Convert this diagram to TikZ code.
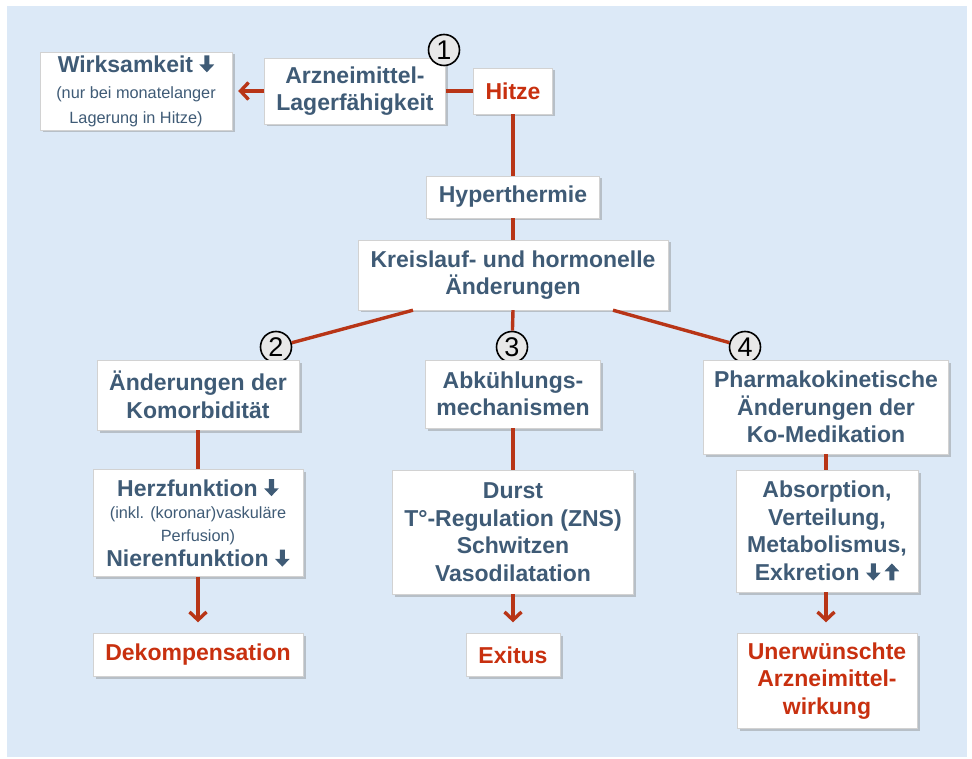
\documentclass[tikz,border=0pt]{standalone}
\usepackage{fontspec}
\setmainfont{Liberation Sans}
\usetikzlibrary{arrows.meta,shadows}

\definecolor{hintergrund}{HTML}{DCE9F7}
\definecolor{textblau}{HTML}{3F5B76}
\definecolor{rottext}{HTML}{C8300F}
\definecolor{linienrot}{HTML}{B83517}

\newcommand{\klein}{\normalfont\fontsize{16.3}{20}\selectfont}
\newcommand{\runter}{\tikz[baseline=0pt]\fill[textblau] (-0.11em,0.74em) -- (0.11em,0.74em) -- (0.11em,0.34em) -- (0.32em,0.34em) -- (0,0) -- (-0.32em,0.34em) -- (-0.11em,0.34em) -- cycle;}
\newcommand{\rauf}{\tikz[baseline=0pt]\fill[textblau] (-0.11em,0) -- (0.11em,0) -- (0.11em,0.4em) -- (0.32em,0.4em) -- (0,0.74em) -- (-0.32em,0.4em) -- (-0.11em,0.4em) -- cycle;}

\tikzset{
	kasten/.style={draw=gray!35, fill=white, align=center, inner sep=3pt,
		drop shadow={shadow xshift=2.5pt, shadow yshift=-2.5pt, opacity=0.4, fill=gray},
		text=textblau, font=\bfseries\fontsize{23}{27.5}\selectfont},
	rotkasten/.style={kasten, text=rottext},
	nummer/.style={circle, draw=black, line width=1.6pt, fill=gray!18, minimum size=31pt,
		inner sep=0pt, font=\fontsize{27}{27}\selectfont},
	linie/.style={draw=linienrot, line width=3.4pt},
	pfeil/.style={linie, -{Straight Barb[length=8pt,width=17pt]}},
}

\begin{document}
\begin{tikzpicture}[x=1pt, y=-1pt]
\useasboundingbox (0,0) rectangle (972,759);
\fill[white] (0,0) rectangle (972,759);
\fill[hintergrund] (7,6) rectangle (967,757);

% oben
\node[kasten, minimum width=192, minimum height=78] (wirk) at (136,91)
	{Wirksamkeit \runter\\[-1pt]{\klein (nur bei monatelanger}\\[-3pt]{\klein Lagerung in Hitze)}};
\node[kasten, minimum width=181, minimum height=66] (lager) at (355,91)
	{Arzneimittel-\\Lagerf\"ahigkeit};
\node[rotkasten, minimum width=79, minimum height=46] (hitze) at (513,91) {Hitze};
\node[nummer] (n1) at (444,50) {1};

\node[kasten, minimum width=173, minimum height=42] (hyper) at (513,197) {Hyperthermie};
\node[kasten, minimum width=310, minimum height=70] (kreis) at (513,275)
	{Kreislauf- und hormonelle\\\"Anderungen};

\node[nummer] (n2) at (276,347) {2};
\node[nummer] (n3) at (512,347) {3};
\node[nummer] (n4) at (745,347) {4};

% drei Zweige
\node[kasten, minimum width=202, minimum height=70] (komorb) at (198,395)
	{\"Anderungen der\\Komorbidit\"at};
\node[kasten, minimum width=175, minimum height=68] (abk) at (513,394)
	{Abk\"uhlungs-\\mechanismen};
\node[kasten, minimum width=245, minimum height=94] (pharma) at (826,407)
	{Pharmakokinetische\\\"Anderungen der\\Ko-Medikation};

\node[kasten, minimum width=210, minimum height=107] (herz) at (198,523)
	{Herzfunktion \runter\\[-5pt]{\klein (inkl. (koronar)vaskul\"are}\\[-5pt]{\klein Perfusion)}\\[-2pt]Nierenfunktion \runter};
\node[kasten, minimum width=241, minimum height=124] (durst) at (513,532)
	{Durst\\T\textdegree-Regulation (ZNS)\\Schwitzen\\Vasodilatation};
\node[kasten, minimum width=182, minimum height=122] (absorp) at (827,531)
	{Absorption,\\Verteilung,\\Metabolismus,\\Exkretion \runter\,\rauf};

\node[rotkasten, minimum width=210, minimum height=43] (dekomp) at (198,655) {Dekompensation};
\node[rotkasten, minimum width=94, minimum height=43] (exitus) at (513,655) {Exitus};
\node[rotkasten, minimum width=180, minimum height=95] (unerw) at (827,681)
	{Unerw\"unschte\\Arzneimittel-\\wirkung};

% Verbindungen
\draw[linie] (hitze.west) -- (lager.east);
\draw[pfeil, shorten >=6pt] (lager.west) -- (wirk.east);
\draw[linie] (hitze.south) -- (hyper.north);
\draw[linie] (hyper.south) -- (kreis.north);
\draw[linie] ([xshift=-100pt]kreis.south) -- (n2);
\draw[linie] (kreis.south) -- (n3);
\draw[linie] ([xshift=100pt]kreis.south) -- (n4);
\draw[linie] (komorb.south) -- (herz.north);
\draw[linie] (abk.south) -- (durst.north);
\draw[linie] (pharma.south) -- (pharma.south |- absorp.north);
\draw[pfeil, shorten >=11pt] (herz.south) -- (dekomp.north);
\draw[pfeil, shorten >=11pt] (durst.south) -- (exitus.north);
\draw[pfeil, shorten >=11pt] (absorp.south -| pharma.south) -- (pharma.south |- unerw.north);
\end{tikzpicture}
\end{document}
